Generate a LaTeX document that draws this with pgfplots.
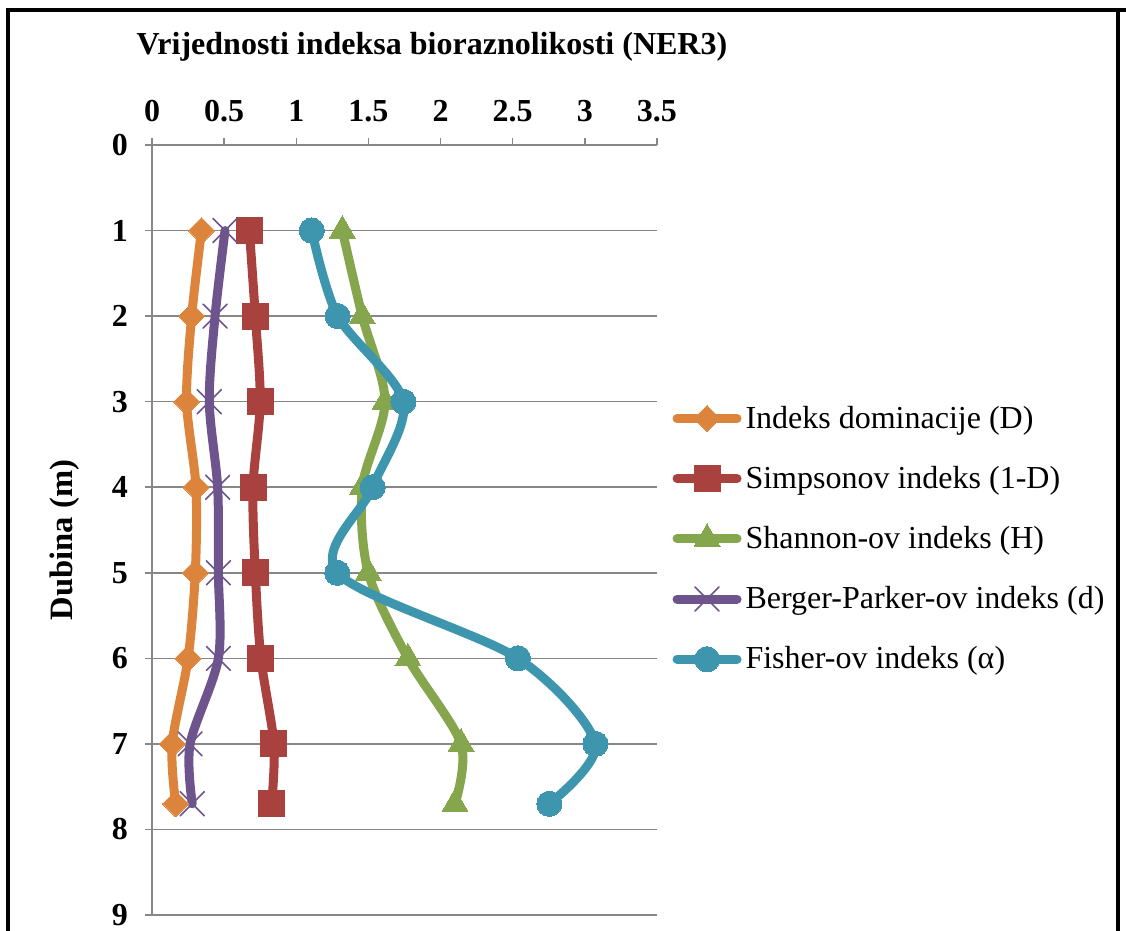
\documentclass[border=0pt]{standalone}
\usepackage{pgfplots}
\pgfplotsset{compat=1.18}
\usepackage{fontspec}
\setmainfont{Liberation Serif}

\definecolor{cD}{HTML}{DD843C}
\definecolor{cS}{HTML}{A9423F}
\definecolor{cH}{HTML}{86A64D}
\definecolor{cd}{HTML}{6E548D}
\definecolor{ca}{HTML}{3D96AE}
\definecolor{gridgray}{HTML}{878787}

\begin{document}
\begin{tikzpicture}[x=1pt,y=1pt]
\useasboundingbox (0,0) rectangle (563,465.5);
% frame
\draw[line width=1.75pt] (4,0) -- (4,460.5) -- (563,460.5);
\draw[line width=1.75pt] (559,460.5) -- (559,0);

\begin{axis}[
    at={(76pt,8pt)}, anchor=south west,
    scale only axis, width=252.5pt, height=385pt,
    xmin=0, xmax=3.5, ymin=0, ymax=9,
    y dir=reverse,
    axis x line=top, axis y line=left,
    axis line style={-, draw=gridgray, line width=0.75pt},
    xtick={0,0.5,1,1.5,2,2.5,3,3.5},
    xticklabels={0,0.5,1,1.5,2,2.5,3,3.5},
    ytick={0,1,2,3,4,5,6,7,8,9},
    ymajorgrids,
    grid style={draw=gridgray, line width=0.75pt},
    tick align=outside,
    tick style={draw=gridgray, line width=0.75pt},
    major tick length=3.5pt,
    /pgf/number format/assume math mode=true,
    tick label style={font=\bfseries\fontsize{16}{19}\selectfont, text=black},
    xticklabel style={yshift=4.5pt},
    yticklabel style={xshift=-5pt},
    every axis plot/.append style={line width=4.5pt, smooth, tension=0.5, line cap=round, line join=round},
    legend image code/.code={\draw[mark repeat=2,mark phase=2] plot coordinates {(0pt,0pt) (15pt,0pt) (30pt,0pt)};},
    legend style={draw=none, fill=none, at={(axis description cs:1.03,0.667)}, anchor=north west,
        font=\fontsize{16}{19}\selectfont, row sep=13.5pt, inner sep=0pt},
    legend cell align=left,
]

\addplot[cD, mark=square*, mark size=4.6pt, mark options={solid, rotate=45, fill=cD, line width=0pt}] coordinates {
(0.343,1) (0.275,2) (0.24,3) (0.305,4) (0.30,5) (0.25,6) (0.14,7) (0.164,7.7)
};
\addlegendentry{Indeks dominacije (D)}

\addplot[cS, mark=square*, mark size=6.5pt, mark options={solid, fill=cS, line width=0pt}] coordinates {
(0.675,1) (0.716,2) (0.75,3) (0.70,4) (0.716,5) (0.755,6) (0.845,7) (0.829,7.7)
};
\addlegendentry{Simpsonov indeks (1-D)}

\addplot[cH, mark=triangle*, mark size=7.5pt, mark options={solid, fill=cH, line width=0pt}] coordinates {
(1.319,1) (1.457,2) (1.615,3) (1.457,4) (1.499,5) (1.774,6) (2.142,7) (2.10,7.7)
};
\addlegendentry{Shannon-ov indeks (H)}

\addplot[cd, mark=x, mark size=8.5pt, mark options={solid, line width=0.8pt}] coordinates {
(0.506,1) (0.437,2) (0.397,3) (0.455,4) (0.46,5) (0.46,6) (0.264,7) (0.279,7.7)
};
\addlegendentry{Berger-Parker-ov indeks (d)}

\addplot[ca, mark=*, mark size=6.3pt, mark options={solid, fill=ca, line width=0pt}] coordinates {
(1.107,1) (1.287,2) (1.742,3) (1.529,4) (1.284,5) (2.536,6) (3.073,7) (2.754,7.7)
};
\addlegendentry{Fisher-ov indeks (α)}
\end{axis}

\node[font=\bfseries\fontsize{16}{19}\selectfont] at (216,442) {Vrijednosti indeksa bioraznolikosti (NER3)};
\node[rotate=90, font=\bfseries\fontsize{16.3}{19}\selectfont] at (32.5,195.5) {Dubina (m)};
\end{tikzpicture}
\end{document}
